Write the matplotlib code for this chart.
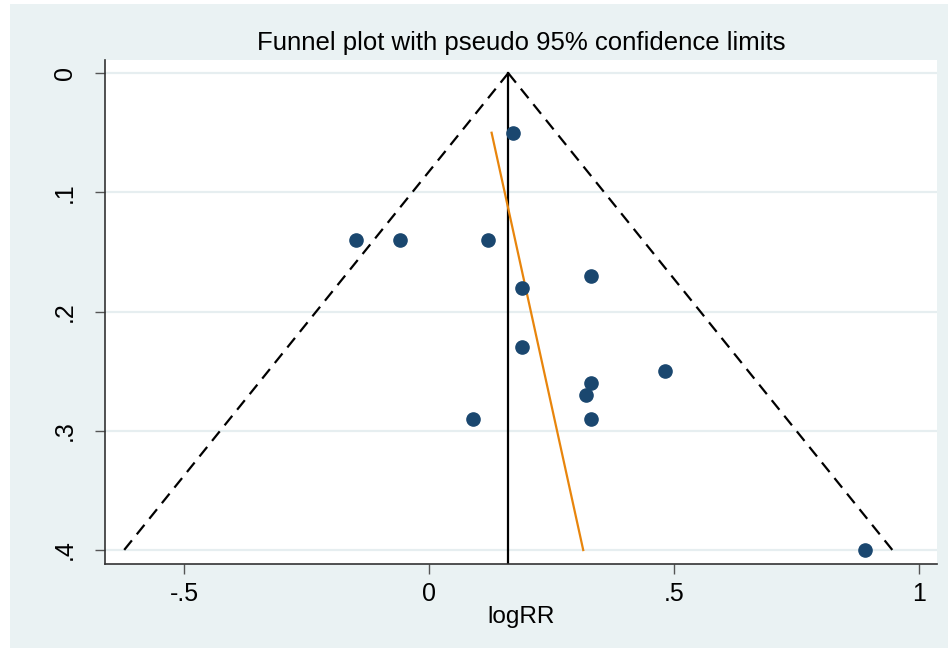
"""Funnel plot with pseudo 95% confidence limits (Stata style)."""

import matplotlib

matplotlib.use("Agg")
import matplotlib.pyplot as plt
import numpy as np

plt.rcParams["font.family"] = ["Liberation Sans", "DejaVu Sans"]

# study estimates: log relative risk and its standard error
log_rr = [0.17, -0.15, -0.06, 0.12, 0.33, 0.19, 0.19, 0.48, 0.33, 0.32, 0.09, 0.33, 0.89]
se_log_rr = [0.05, 0.14, 0.14, 0.14, 0.17, 0.18, 0.23, 0.25, 0.26, 0.27, 0.29, 0.29, 0.40]

pooled = 0.161
se_max = 0.40

# Egger regression line (endpoints)
egger_x = [0.127, 0.314]
egger_se = [0.05, 0.40]

yticks = [0, 0.1, 0.2, 0.3, 0.4]
ytick_labels = ["0", ".1", ".2", ".3", ".4"]
xticks = [-0.5, 0, 0.5, 1]
xtick_labels = ["-.5", "0", ".5", "1"]

BG = "#EAF2F3"
NAVY = "#1A476F"
ORANGE = "#E8850C"

fig = plt.figure(figsize=(9.48, 6.48), dpi=100, facecolor="white")
fig.patches.append(plt.Rectangle((10 / 948, 0), 1, 1 - 4 / 648, transform=fig.transFigure,
                                 facecolor=BG, edgecolor="none", zorder=-10))
ax = fig.add_axes([105 / 948, 1 - 564 / 648, (937 - 105) / 948, (564 - 60) / 648])
ax.set_facecolor("white")

# pseudo 95% confidence limits
se_line = np.array([0, se_max])
ax.plot(pooled - 1.96 * se_line, se_line, color="black", lw=1.6, ls=(0, (5.5, 3.5)))
ax.plot(pooled + 1.96 * se_line, se_line, color="black", lw=1.6, ls=(0, (5.5, 3.5)))
ax.plot([pooled, pooled], [0, 0.4117], color="black", lw=1.6)

ax.plot(egger_x, egger_se, color=ORANGE, lw=1.6)
ax.plot(log_rr, se_log_rr, "o", color=NAVY, ms=9.5, mec=NAVY, zorder=5)

ax.set_xlim(-0.662, 1.036)
ax.set_ylim(0.4117, -0.011)

ax.set_yticks(yticks)
ax.set_yticklabels(ytick_labels, rotation=90, va="center", fontsize=18)
ax.set_xticks(xticks)
ax.set_xticklabels(xtick_labels, fontsize=18)
ax.tick_params(axis="both", length=7, width=1, color="#555555")
ax.tick_params(axis="x", pad=6)
ax.tick_params(axis="y", pad=13)
ax.grid(True, axis="y", color="#E6EEF0", lw=1.6)
ax.set_axisbelow(True)

for side in ["top", "right"]:
    ax.spines[side].set_visible(False)
for side in ["left", "bottom"]:
    ax.spines[side].set_color("#333333")
    ax.spines[side].set_linewidth(1.2)

ax.set_xlabel("logRR", fontsize=17.5, labelpad=0)
ax.set_title("Funnel plot with pseudo 95% confidence limits", fontsize=18.5, pad=7)

fig.savefig("out.png", dpi=100, facecolor=fig.get_facecolor())
